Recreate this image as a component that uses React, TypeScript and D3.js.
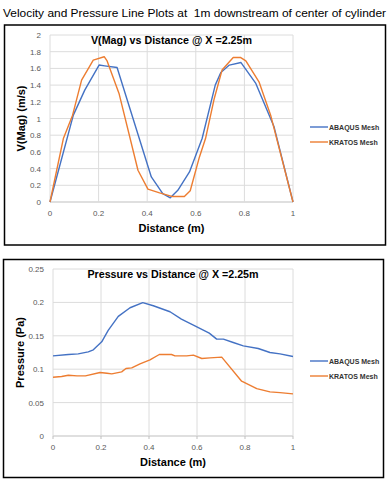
import React from 'react'
import * as d3 from 'd3'

const W = 392
const H = 485

// velocity magnitude along the line (m vs m/s)
const velAbaqusX = [0, 0.096, 0.143, 0.202, 0.225, 0.276, 0.417, 0.464, 0.495, 0.526, 0.574, 0.626, 0.68, 0.703, 0.738, 0.786, 0.847, 0.922, 1]
const velAbaqusY = [0, 1.04, 1.34, 1.64, 1.63, 1.61, 0.3, 0.1, 0.05, 0.14, 0.36, 0.76, 1.4, 1.55, 1.64, 1.67, 1.42, 0.9, 0]
const velKratosX = [0, 0.055, 0.093, 0.13, 0.178, 0.223, 0.235, 0.284, 0.362, 0.403, 0.451, 0.505, 0.553, 0.577, 0.615, 0.64, 0.676, 0.708, 0.754, 0.785, 0.806, 0.86, 0.908, 1]
const velKratosY = [0, 0.76, 1.04, 1.46, 1.7, 1.74, 1.69, 1.3, 0.38, 0.155, 0.11, 0.065, 0.065, 0.135, 0.54, 0.76, 1.24, 1.58, 1.73, 1.73, 1.69, 1.44, 1.04, 0]

// pressure along the line (m vs Pa)
const presAbaqusX = [0, 0.064, 0.105, 0.147, 0.168, 0.203, 0.23, 0.272, 0.321, 0.374, 0.418, 0.4875, 0.535, 0.585, 0.651, 0.682, 0.71, 0.751, 0.793, 0.855, 0.904, 0.946, 1]
const presAbaqusY = [0.12, 0.122, 0.123, 0.126, 0.129, 0.141, 0.158, 0.179, 0.192, 0.1996, 0.195, 0.186, 0.175, 0.166, 0.154, 0.145, 0.145, 0.14, 0.135, 0.131, 0.125, 0.123, 0.119]
const presKratosX = [0, 0.036, 0.064, 0.1, 0.135, 0.196, 0.225, 0.245, 0.286, 0.304, 0.328, 0.3625, 0.404, 0.443, 0.494, 0.508, 0.557, 0.585, 0.62, 0.654, 0.703, 0.786, 0.849, 0.904, 0.946, 1]
const presKratosY = [0.088, 0.089, 0.091, 0.09, 0.09, 0.095, 0.094, 0.093, 0.096, 0.101, 0.102, 0.108, 0.114, 0.122, 0.122, 0.12, 0.12, 0.121, 0.116, 0.117, 0.118, 0.082, 0.071, 0.066, 0.065, 0.063]

const xTicks = [0, 0.2, 0.4, 0.6, 0.8, 1]
const velTicks = [0, 0.2, 0.4, 0.6, 0.8, 1, 1.2, 1.4, 1.6, 1.8, 2]
const presTicks = [0, 0.05, 0.1, 0.15, 0.2, 0.25]

const seriesNames = ['ABAQUS Mesh', 'KRATOS Mesh']
const colors = ['#4472C4', '#ED7D31']

const font = '"Liberation Sans", Arial, sans-serif'

type Panel = {
  box: [number, number, number, number]
  plot: [number, number, number, number] // left, top, right, bottom
  title: string
  yLabel: string
  yMax: number
  yTicks: number[]
  series: { xs: number[]; ys: number[] }[]
  legendY: number
  tickMarks: boolean
}

const ChartPanel = ({ p }: { p: Panel }) => {
  const [l, t, r, b] = p.plot
  const x = d3.scaleLinear().domain([0, 1]).range([l, r])
  const y = d3.scaleLinear().domain([0, p.yMax]).range([b, t])
  const line = d3.line<[number, number]>().x(d => x(d[0])).y(d => y(d[1]))
  const [bx, by, bw, bh] = p.box

  return (
    <g>
      <rect x={bx} y={by} width={bw} height={bh} fill="white" stroke="#000" strokeWidth={1.5} />
      {p.yTicks.map(v => (
        <g key={'y' + v}>
          <line x1={l} x2={r} y1={y(v)} y2={y(v)} stroke={v === 0 ? '#bfbfbf' : '#dcdcdc'} strokeWidth={1} />
          <text x={l - 9} y={y(v) + 3} textAnchor="end" fontSize={8} fill="#595959" fontFamily={font}>{v}</text>
        </g>
      ))}
      {xTicks.map(v => (
        <g key={'x' + v}>
          <line x1={x(v)} x2={x(v)} y1={t} y2={b} stroke="#dcdcdc" strokeWidth={1} />
          {p.tickMarks && <line x1={x(v)} x2={x(v)} y1={b} y2={b + 3} stroke="#bfbfbf" />}
          <text x={x(v)} y={b + 14} textAnchor="middle" fontSize={8} fill="#595959" fontFamily={font}>{v}</text>
        </g>
      ))}
      {p.series.map((s, i) => (
        <path key={i} d={line(s.xs.map((xv, j) => [xv, s.ys[j]]) as [number, number][]) || ''}
          fill="none" stroke={colors[i]} strokeWidth={1.4} strokeLinejoin="round" />
      ))}
      <text x={(l + r) / 2} y={t + 9} textAnchor="middle" fontSize={10.7} fontWeight="bold" fill="#000" fontFamily={font}>{p.title}</text>
      <text x={(l + r) / 2} y={b + 30} textAnchor="middle" fontSize={11} fontWeight="bold" fill="#000" fontFamily={font}>Distance (m)</text>
      <text transform={`translate(${bx + 20},${(t + b) / 2}) rotate(-90)`} textAnchor="middle" fontSize={11} fontWeight="bold" fill="#000" fontFamily={font}>{p.yLabel}</text>
      {seriesNames.map((n, i) => (
        <g key={n}>
          <line x1={310} x2={328} y1={p.legendY + i * 15} y2={p.legendY + i * 15} stroke={colors[i]} strokeWidth={1.4} />
          <text x={329} y={p.legendY + i * 15 + 2.5} fontSize={7} fontWeight="bold" fill="#333" fontFamily={font}>{n}</text>
        </g>
      ))}
    </g>
  )
}

const App = () => {
  const top: Panel = {
    box: [4.5, 25, 381, 220],
    plot: [50, 35, 293, 202],
    title: 'V(Mag) vs Distance @ X =2.25m',
    yLabel: 'V(Mag) (m/s)',
    yMax: 2,
    yTicks: velTicks,
    series: [{ xs: velAbaqusX, ys: velAbaqusY }, { xs: velKratosX, ys: velKratosY }],
    legendY: 127,
    tickMarks: false,
  }
  const bottom: Panel = {
    box: [3.5, 259.5, 380, 218],
    plot: [53, 269, 293, 436],
    title: 'Pressure vs Distance @ X =2.25m',
    yLabel: 'Pressure (Pa)',
    yMax: 0.25,
    yTicks: presTicks,
    series: [{ xs: presAbaqusX, ys: presAbaqusY }, { xs: presKratosX, ys: presKratosY }],
    legendY: 361,
    tickMarks: true,
  }
  return (
    <svg width={W} height={H} style={{ position: 'absolute', left: 0, top: 0, background: 'white' }}>
      <rect width={W} height={H} fill="white" />
      <text x={3} y={17} fontSize={11.6} fill="#000" fontFamily={font} textLength={383} lengthAdjust="spacingAndGlyphs" xmlSpace="preserve">
        {'Velocity and Pressure Line Plots at \u00a01m downstream of center of cylinder'}
      </text>
      <ChartPanel p={top} />
      <ChartPanel p={bottom} />
    </svg>
  )
}

export default App
